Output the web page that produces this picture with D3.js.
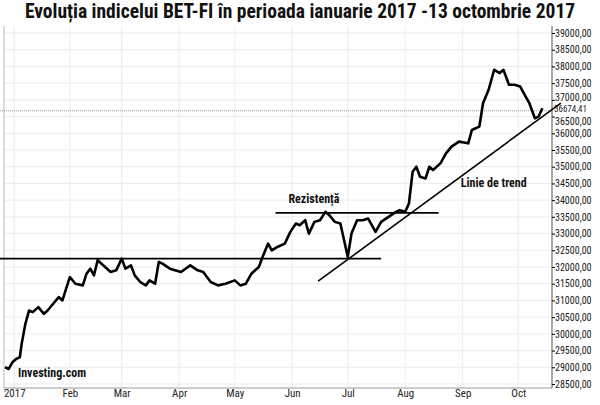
<!DOCTYPE html><html><head><meta charset="utf-8">
<script src="https://cdn.jsdelivr.net/npm/d3@7"></script>
<style>body{margin:0;background:#fff}</style></head><body><svg id="c" width="600" height="405"></svg>
<script>
const startDate = "2017-01-02";
const dayOffsets = [-5,-3,-1,1,3,4,6,8,10,13,16,18,21,24,26,28,30,33,37,39,41,43,45,48,52,55,58,60,63,65,68,71,73,76,78,80,84,90,95,99,102,106,110,114,119,122,125,128,132,134,137,139,142,146,149,152,154,157,159,162,165,168,170,173,176,178,180,182,185,188,191,195,198,202,206,208,211,213,215,217,219,222,224,226,230,233,236,240,245,247,251,253,256,259,262,264,267,270,273,276,278,281,283,285];
const values = [29000,28950,29150,29250,29300,29700,30300,30700,30650,30800,30600,30700,30900,31100,31000,31350,31700,31500,31450,31800,31950,31750,32200,32050,31850,31900,32250,31950,32050,31750,31550,31450,31600,31500,32150,32100,31950,31850,32050,31900,31850,31550,31450,31500,31600,31450,31500,31800,32000,32300,32700,32500,32600,32700,33050,33300,33250,33400,33000,33350,33400,33650,33550,33350,33300,32800,32300,33000,33400,33400,33450,33050,33350,33500,33650,33700,33650,33900,34850,35000,34700,34650,35000,34900,35100,35400,35600,35750,35700,36100,36200,36900,37300,37900,37800,37900,37450,37450,37400,37100,36900,36450,36500,36750];
const yTicks = d3.range(28500, 39001, 500);
const monthLabels = ["2017","Feb","Mar","Apr","May","Jun","Jul","Aug","Sep","Oct"];
const lastValue = 36674.41;
const resistLow = {from:-26, to:198, value:32250};
const resistHigh = {from:141, to:229, value:33620};
const trendLine = {from:[164,31575], to:[295,36904]};

const svg = d3.select("#c");
const base = new Date(startDate+"T00:00:00");
const day = o => d3.timeDay.offset(base, o);
const x = d3.scaleTime().domain([day(-5), day(290)]).range([5, 551.6]);
const y = d3.scaleLinear().domain([28500, 39000]).range([384, 33]);
const ff = "'Liberation Sans Narrow','Roboto Condensed','Liberation Sans',Arial,sans-serif";

svg.append("text").attr("x",300).attr("y",18).attr("text-anchor","middle")
  .attr("font-family",ff).attr("font-weight","bold").attr("font-size",19.5).attr("fill","#111")
  .text("Evoluția indicelui BET-FI în perioada ianuarie 2017 -13 octombrie 2017");

const months = monthLabels.map((m,i)=>new Date(2017,i,1));
months[0] = new Date(2017,0,2);
svg.append("g").selectAll("line").data(yTicks).join("line")
  .attr("x1",4).attr("x2",552).attr("y1",d=>y(d)).attr("y2",d=>y(d)).attr("stroke","#ebebeb");
svg.append("g").selectAll("line").data(months).join("line")
  .attr("x1",d=>x(d)).attr("x2",d=>x(d)).attr("y1",26).attr("y2",388).attr("stroke","#ebebeb");
svg.append("line").attr("x1",4).attr("x2",4).attr("y1",26).attr("y2",390).attr("stroke","#bbb");
svg.append("line").attr("x1",4).attr("x2",552).attr("y1",388).attr("y2",388).attr("stroke","#999");
svg.append("line").attr("x1",552).attr("x2",552).attr("y1",26).attr("y2",388).attr("stroke","#555");

const yAx = svg.append("g").attr("transform","translate(552,0)")
  .call(d3.axisRight(y).tickValues(yTicks).tickSize(3).tickFormat(d=>d+",00"));
yAx.select(".domain").remove();
yAx.selectAll("text").attr("font-family",ff).attr("font-size",10).attr("fill","#222").attr("dx",-3)
  .attr("dy", d => d===37000 ? "0.05em" : d===36500 ? "0.75em" : "0.32em");
const xAx = svg.append("g").attr("transform","translate(0,388)")
  .call(d3.axisBottom(x).tickValues(months).tickSize(0).tickFormat((d,i)=>monthLabels[i]));
xAx.select(".domain").remove();
xAx.selectAll("text").attr("font-family",ff).attr("font-size",11).attr("fill","#222").attr("dy",6);

svg.append("line").attr("x1",0).attr("x2",552).attr("y1",y(lastValue)).attr("y2",y(lastValue))
  .attr("stroke","#999").attr("stroke-dasharray","1,1");
svg.append("text").attr("x",554).attr("y",y(lastValue)+1.5).attr("font-family",ff).attr("font-size",9)
  .attr("fill","#222").text(d3.format(".2f")(lastValue).replace(".",","));

const data = dayOffsets.map((o,i)=>({d:day(o), v:values[i]}));
svg.append("path").datum(data).attr("fill","none").attr("stroke","#000").attr("stroke-width",2.6)
  .attr("stroke-linejoin","round").attr("d", d3.line().x(d=>x(d.d)).y(d=>y(d.v)));

[resistLow,resistHigh].forEach(r=>svg.append("line").attr("x1",x(day(r.from))).attr("x2",x(day(r.to)))
  .attr("y1",y(r.value)).attr("y2",y(r.value)).attr("stroke","#000").attr("stroke-width",1.6));
svg.append("line").attr("x1",x(day(trendLine.from[0]))).attr("y1",y(trendLine.from[1]))
  .attr("x2",x(day(trendLine.to[0]))).attr("y2",y(trendLine.to[1])).attr("stroke","#000").attr("stroke-width",1.6);

const lab = (t,xx,yy,s)=>svg.append("text").attr("x",xx).attr("y",yy).attr("font-family",ff)
  .attr("font-weight","bold").attr("font-size",s).attr("fill","#111").text(t);
lab("Rezistență",x(day(148)),y(33900),12);
lab("Linie de trend",x(day(241)),y(34380),12);
lab("Investing.com",x(day(2)),y(28700),12);
</script></body></html>
